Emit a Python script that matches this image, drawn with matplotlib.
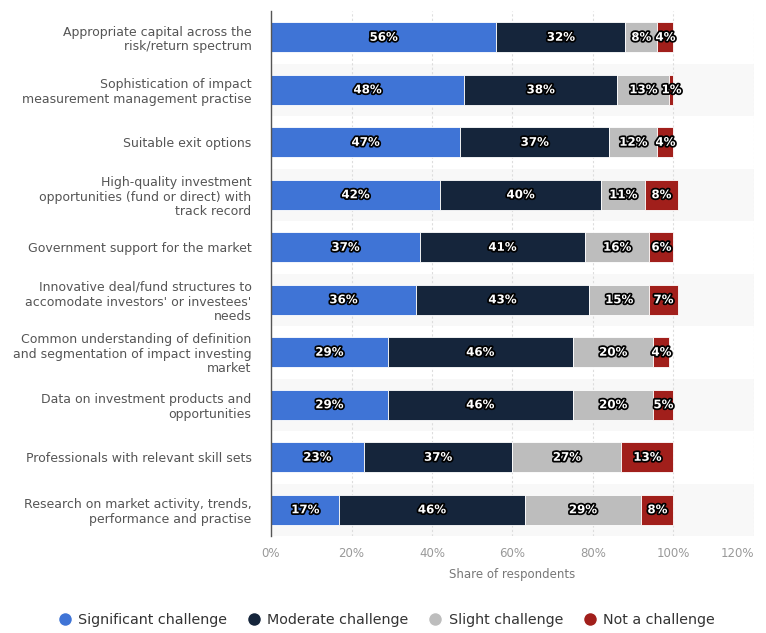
import matplotlib
matplotlib.use("Agg")
import matplotlib.pyplot as plt
import matplotlib.patheffects as pe
from matplotlib.lines import Line2D
import numpy as np

categories = [
    "Appropriate capital across the\nrisk/return spectrum",
    "Sophistication of impact\nmeasurement management practise",
    "Suitable exit options",
    "High-quality investment\nopportunities (fund or direct) with\ntrack record",
    "Government support for the market",
    "Innovative deal/fund structures to\naccomodate investors' or investees'\nneeds",
    "Common understanding of definition\nand segmentation of impact investing\nmarket",
    "Data on investment products and\nopportunities",
    "Professionals with relevant skill sets",
    "Research on market activity, trends,\nperformance and practise",
]
series_names = ["Significant challenge", "Moderate challenge", "Slight challenge", "Not a challenge"]
significant = [56, 48, 47, 42, 37, 36, 29, 29, 23, 17]
moderate = [32, 38, 37, 40, 41, 43, 46, 46, 37, 46]
slight = [8, 13, 12, 11, 16, 15, 20, 20, 27, 29]
not_challenge = [4, 1, 4, 8, 6, 7, 4, 5, 13, 8]
x_ticks = [0, 20, 40, 60, 80, 100, 120]
x_ticklabels = ["0%", "20%", "40%", "60%", "80%", "100%", "120%"]

colors = ["#3f74d6", "#15253b", "#bdbdbd", "#a11f1b"]
font = "DejaVu Sans"

fig = plt.figure(figsize=(7.66, 6.33), dpi=100)
ax = fig.add_axes([271/766, 1-536/633, (754-271)/766, (536-11)/633])

y = np.arange(len(categories))
ax.set_ylim(len(categories)-0.5, -0.5)
ax.set_xlim(0, 120)

for i in y:
    if i % 2 == 1:
        ax.axhspan(i-0.5, i+0.5, color="#f8f8f8", zorder=0, lw=0)

for xt in x_ticks[1:]:
    ax.axvline(xt, color="#dddddd", lw=0.8, ls=(0, (2, 2)), zorder=1)

data = [significant, moderate, slight, not_challenge]
left = np.zeros(len(categories))
for vals, col in zip(data, colors):
    vals = np.array(vals, dtype=float)
    ax.barh(y, vals, left=left, height=0.57, color=col, edgecolor="white", linewidth=0.6, zorder=2)
    for yi, (l, v) in enumerate(zip(left, vals)):
        ax.text(l + v/2, yi, f"{int(v)}%", ha="center", va="center", color="white",
                fontsize=8.5, fontweight="bold", family=font, zorder=4,
                path_effects=[pe.withStroke(linewidth=2.5, foreground="black")])
    left += vals

ax.set_yticks(y)
ax.set_yticklabels(categories, fontsize=9, color="#555555", family=font, linespacing=1.15)
ax.set_xticks(x_ticks)
ax.set_xticklabels(x_ticklabels, fontsize=8.5, color="#999999", family=font)
ax.get_xticklabels()[-1].set_horizontalalignment("right")
ax.tick_params(axis="both", length=0, pad=8)
ax.tick_params(axis="y", pad=14)
ax.set_xlabel("Share of respondents", fontsize=8.5, color="#777777", family=font, labelpad=6)

for s in ["top", "right", "bottom"]:
    ax.spines[s].set_visible(False)
ax.spines["left"].set_color("#555555")
ax.spines["left"].set_linewidth(1)
ax.spines["left"].set_zorder(3)

handles = [Line2D([0], [0], marker="o", color="w", markerfacecolor=c, markersize=10, lw=0) for c in colors]
fig.legend(handles, series_names, loc="center", bbox_to_anchor=(0.502, 1-620/633), ncol=4,
           frameon=False, prop={"family": font, "size": 10.3}, handletextpad=0.2, columnspacing=1.1,
           handlelength=1.5, labelcolor="#333333")

fig.savefig("out.png", dpi=100)
